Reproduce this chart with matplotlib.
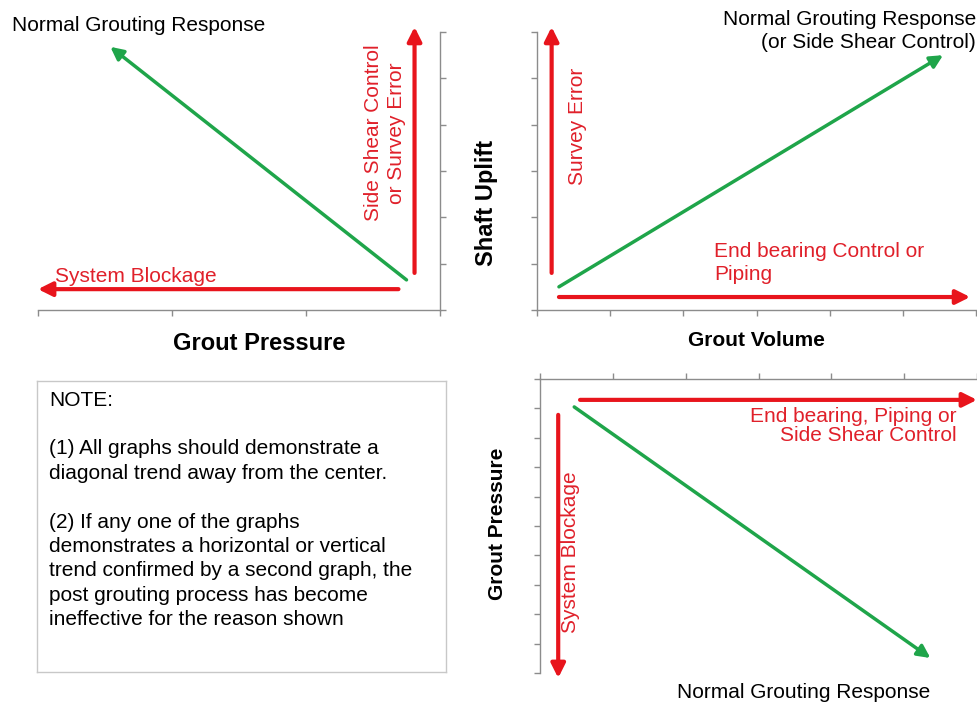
import matplotlib
matplotlib.use("Agg")
import matplotlib.pyplot as plt
import numpy as np

plt.rcParams['font.family'] = ['Liberation Sans', 'DejaVu Sans']

W, H = 978, 704
RED = '#e8141c'
GREEN = '#1fa54a'
TRED = '#e0202a'
GRAY = '#8c8c8c'

# ---- data (arrow start/end in each panel's data units) ----
# Panel A: Shaft Uplift vs Grout Pressure (x inverted)
a_xlim = (3, 0); a_ylim = (0, 6)
a_xticks = [0, 1, 2, 3]; a_yticks = [0, 1, 2, 3, 4, 5, 6]
a_green = [(0.25, 0.65), (2.46, 5.68)]
a_red_up = [(0.19, 0.80), (0.19, 6.11)]
a_red_left = [(0.31, 0.45), (3.0, 0.45)]

# Panel B: Shaft Uplift vs Grout Volume
b_xlim = (0, 6); b_ylim = (0, 6)
b_xticks = [0, 1, 2, 3, 4, 5, 6]; b_yticks = [0, 1, 2, 3, 4, 5, 6]
b_green = [(0.30, 0.50), (5.55, 5.50)]
b_red_up = [(0.20, 0.80), (0.20, 6.11)]
b_red_right = [(0.30, 0.28), (5.92, 0.28)]

# Panel C: Grout Pressure vs Normal Grouting Response (y inverted)
c_xlim = (0, 6); c_ylim = (10, 0)
c_xticks = [0, 1, 2, 3, 4, 5, 6]; c_yticks = list(range(11))
c_green = [(0.47, 0.95), (5.36, 9.49)]
c_red_right = [(0.55, 0.71), (6.0, 0.71)]
c_red_down = [(0.25, 1.22), (0.25, 10.17)]

fig = plt.figure(figsize=(W / 100, H / 100), dpi=100)


def rect(x0, y0, x1, y1):
    return [x0 / W, 1 - y1 / H, (x1 - x0) / W, (y1 - y0) / H]


def fx(x):
    return x / W


def fy(y):
    return 1 - y / H


def arrow(ax, seg, color, lw, ms=21):
    ax.annotate('', xy=seg[1], xytext=seg[0], annotation_clip=False,
                arrowprops=dict(arrowstyle='-|>', color=color, lw=lw,
                                shrinkA=0, shrinkB=0, mutation_scale=ms))


def style(ax, show, xticks, yticks, xlim, ylim):
    ax.set_xlim(*xlim); ax.set_ylim(*ylim)
    for s in ['left', 'right', 'top', 'bottom']:
        ax.spines[s].set_visible(s in show)
        ax.spines[s].set_color(GRAY)
        ax.spines[s].set_linewidth(1.0)
    ax.set_xticks(xticks); ax.set_yticks(yticks)
    ax.tick_params(direction='out', length=4.5, width=1.0, color=GRAY,
                   labelbottom=False, labelleft=False, labeltop=False, labelright=False,
                   bottom='bottom' in show, top='top' in show,
                   left='left' in show, right='right' in show)
    ax.patch.set_alpha(0)


# Panel A
axA = fig.add_axes(rect(38, 32, 440, 310))
style(axA, ['right', 'bottom'], a_xticks, a_yticks, a_xlim, a_ylim)
arrow(axA, a_green, GREEN, 2.5, 19)
arrow(axA, a_red_up, RED, 3.0)
arrow(axA, a_red_left, RED, 3.0)

# Panel B
axB = fig.add_axes(rect(537, 32, 976, 310))
style(axB, ['left', 'bottom'], b_xticks, b_yticks, b_xlim, b_ylim)
arrow(axB, b_green, GREEN, 2.5, 19)
arrow(axB, b_red_up, RED, 3.0)
arrow(axB, b_red_right, RED, 3.0)

# Panel C
axC = fig.add_axes(rect(540, 379, 977, 673))
style(axC, ['left', 'top'], c_xticks, c_yticks, c_xlim, c_ylim)
arrow(axC, c_green, GREEN, 2.5, 19)
arrow(axC, c_red_right, RED, 3.0)
arrow(axC, c_red_down, RED, 3.0)

FS = 15

# Panel A texts
fig.text(fx(12), fy(31), 'Normal Grouting Response', fontsize=FS, color='black',
         ha='left', va='baseline')
fig.text(fx(385), fy(133), 'Side Shear Control\nor Survey Error', fontsize=FS, color=TRED,
         rotation=90, ha='center', va='center', multialignment='center', linespacing=1.27)
fig.text(fx(55), fy(276), 'System Blockage', fontsize=FS, color=TRED, ha='left', va='center')
fig.text(fx(259), fy(343), 'Grout Pressure', fontsize=17, fontweight='bold', color='black',
         ha='center', va='center')
fig.text(fx(487), fy(203), 'Shaft Uplift', fontsize=17, fontweight='bold', color='black',
         rotation=90, ha='center', va='center')

# Panel B texts
fig.text(fx(976), fy(31), 'Normal Grouting Response\n(or Side Shear Control)', fontsize=FS,
         color='black', ha='right', va='center', multialignment='right', linespacing=1.27)
fig.text(fx(578), fy(126), 'Survey Error', fontsize=FS, color=TRED, rotation=90,
         ha='center', va='center')
fig.text(fx(714), fy(263), 'End bearing Control or\nPiping', fontsize=FS, color=TRED,
         ha='left', va='center', multialignment='left', linespacing=1.27)
fig.text(fx(756), fy(341), 'Grout Volume', fontsize=FS, fontweight='bold', color='black',
         ha='center', va='center')

# Panel C texts
fig.text(fx(957), fy(426), 'End bearing, Piping or\nSide Shear Control', fontsize=FS,
         color=TRED, ha='right', va='center', multialignment='right', linespacing=1.02)
fig.text(fx(571), fy(552), 'System Blockage', fontsize=FS, color=TRED, rotation=90,
         ha='center', va='center')
fig.text(fx(498), fy(524), 'Grout Pressure', fontsize=FS, fontweight='bold', color='black',
         rotation=90, ha='center', va='center')
fig.text(fx(804), fy(692), 'Normal Grouting Response', fontsize=FS, color='black',
         ha='center', va='center')

# Note box
axN = fig.add_axes(rect(37, 381, 446, 672))
axN.set_xticks([]); axN.set_yticks([])
for s in axN.spines.values():
    s.set_color('#c8c8c8'); s.set_linewidth(1.0)
note = ("NOTE:\n\n(1) All graphs should demonstrate a\ndiagonal trend away from the center.\n\n"
        "(2) If any one of the graphs\ndemonstrates a horizontal or vertical\n"
        "trend confirmed by a second graph, the\npost grouting process has become\n"
        "ineffective for the reason shown")
fig.text(fx(49), fy(510), note, fontsize=FS, color='black', ha='left', va='center',
         linespacing=1.36)

fig.savefig('out.png', dpi=100)
